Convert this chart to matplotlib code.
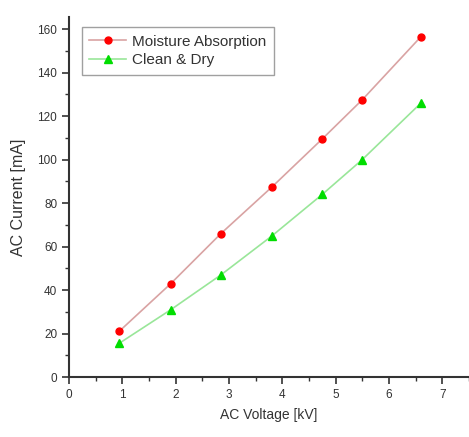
import matplotlib
matplotlib.use('Agg')
import matplotlib.pyplot as plt
from matplotlib.ticker import MultipleLocator

plt.rcParams['font.family'] = ['Liberation Sans', 'DejaVu Sans']

voltage = [0.94, 1.91, 2.85, 3.81, 4.75, 5.50, 6.60]
moisture = [21, 43, 66, 87.5, 109.5, 127.5, 156.5]
clean_dry = [15.5, 31, 47, 65, 84, 100, 126]

fig = plt.figure(figsize=(4.69, 4.37), dpi=100)
ax = fig.add_axes([0.147, 0.137, 0.853, 0.824])

ax.plot(voltage, moisture, color='#d9a3a3', lw=1.2, marker='o', ms=5,
        mfc='red', mec='red', label='Moisture Absorption')
ax.plot(voltage, clean_dry, color='#99e699', lw=1.2, marker='^', ms=5.5,
        mfc='#00dd00', mec='#00dd00', label='Clean & Dry')

ax.set_xlim(0, 7.5)
ax.set_ylim(0, 165.5)
ax.xaxis.set_major_locator(MultipleLocator(1))
ax.xaxis.set_minor_locator(MultipleLocator(0.5))
ax.yaxis.set_major_locator(MultipleLocator(20))
ax.yaxis.set_minor_locator(MultipleLocator(10))
ax.spines['top'].set_visible(False)
ax.spines['right'].set_visible(False)
for s in ['left', 'bottom']:
    ax.spines[s].set_color('#333333')
    ax.spines[s].set_linewidth(1.5)
ax.tick_params(which='major', length=5, width=1.2, color='#333333',
               labelsize=8.5, labelcolor='#333333')
ax.tick_params(which='minor', length=3, width=1, color='#333333')

ax.set_xlabel('AC Voltage [kV]', fontsize=10, color='#333333', labelpad=5)
ax.set_ylabel('AC Current [mA]', fontsize=11.5, color='#333333', labelpad=8)

leg = ax.legend(loc='upper left', bbox_to_anchor=(0.032, 0.972), fontsize=11,
                frameon=True, fancybox=False, edgecolor='#888888',
                handlelength=2.4, handletextpad=0.4, borderpad=0.5,
                labelspacing=0.3, borderaxespad=0)
leg.get_frame().set_linewidth(1)
for t in leg.get_texts():
    t.set_color('#333333')

fig.savefig('out.png', dpi=100)
